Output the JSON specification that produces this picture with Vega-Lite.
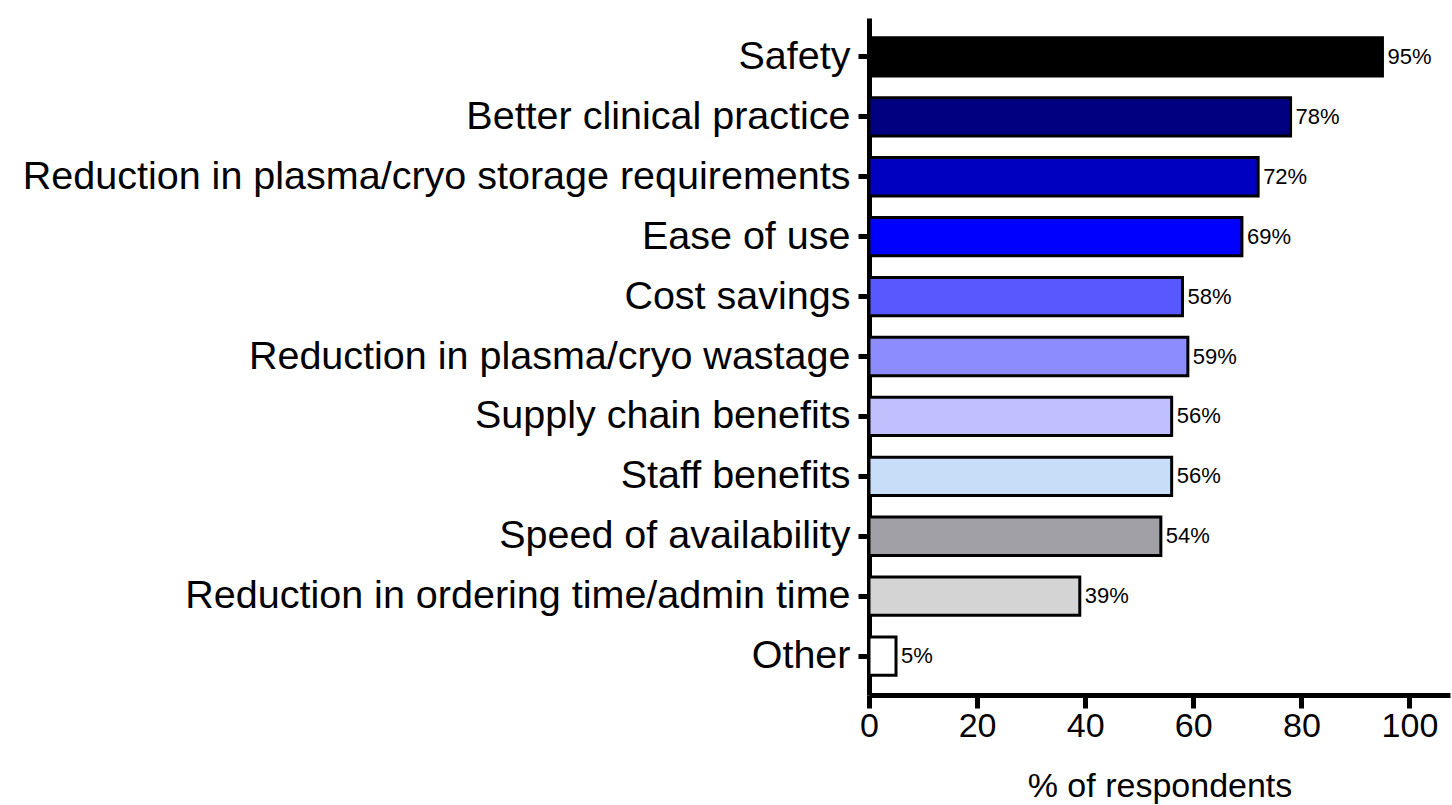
{
  "$schema": "https://vega.github.io/schema/vega-lite/v6.json",
  "width": 581,
  "height": 677,
  "autosize": {"type": "none"},
  "padding": {"left": 869, "top": 18, "right": 2, "bottom": 110},
  "background": "white",
  "config": {
    "font": "Liberation Sans",
    "view": {"stroke": null}
  },
  "data": {
    "values": [
      {"reason": "Safety", "pct": 95, "label": "95%"},
      {"reason": "Better clinical practice", "pct": 78, "label": "78%"},
      {"reason": "Reduction in plasma/cryo storage requirements", "pct": 72, "label": "72%"},
      {"reason": "Ease of use", "pct": 69, "label": "69%"},
      {"reason": "Cost savings", "pct": 58, "label": "58%"},
      {"reason": "Reduction in plasma/cryo wastage", "pct": 59, "label": "59%"},
      {"reason": "Supply chain benefits", "pct": 56, "label": "56%"},
      {"reason": "Staff benefits", "pct": 56, "label": "56%"},
      {"reason": "Speed of availability", "pct": 54, "label": "54%"},
      {"reason": "Reduction in ordering time/admin time", "pct": 39, "label": "39%"},
      {"reason": "Other", "pct": 5, "label": "5%"}
    ]
  },
  "encoding": {
    "y": {
      "field": "reason",
      "type": "nominal",
      "sort": null,
      "scale": {"paddingInner": 0.36, "paddingOuter": 0.33},
      "axis": {
        "title": null,
        "domainColor": "black",
        "domainWidth": 5,
        "tickColor": "black",
        "tickWidth": 5,
        "tickSize": 11,
        "labelPadding": 8,
        "labelFontSize": 39.5,
        "labelColor": "black",
        "labelLimit": 0
      }
    }
  },
  "layer": [
    {
      "mark": {"type": "bar", "stroke": "black", "strokeWidth": 3},
      "encoding": {
        "x": {
          "field": "pct",
          "type": "quantitative",
          "scale": {"domain": [0, 107.5], "nice": false},
          "axis": {
            "title": "% of respondents",
            "values": [0, 20, 40, 60, 80, 100],
            "grid": false,
            "domainColor": "black",
            "domainWidth": 5,
            "tickColor": "black",
            "tickWidth": 5,
            "tickSize": 13,
            "labelFontSize": 34,
            "labelColor": "black",
            "labelPadding": 1,
            "labelFlush": false,
            "titleFontSize": 34,
            "titleFontWeight": "normal",
            "titleColor": "black",
            "titlePadding": 26
          }
        },
        "color": {
          "field": "reason",
          "type": "nominal",
          "legend": null,
          "scale": {
            "domain": ["Safety", "Better clinical practice", "Reduction in plasma/cryo storage requirements", "Ease of use", "Cost savings", "Reduction in plasma/cryo wastage", "Supply chain benefits", "Staff benefits", "Speed of availability", "Reduction in ordering time/admin time", "Other"],
            "range": ["#000000", "#000080", "#0000C0", "#0000FF", "#5858FF", "#8C8CFF", "#C0C0FF", "#C8DDF8", "#A0A0A6", "#D4D4D4", "#FFFFFF"]
          }
        }
      }
    },
    {
      "mark": {"type": "text", "align": "left", "baseline": "middle", "dx": 5, "fontSize": 22, "color": "black"},
      "encoding": {
        "x": {"field": "pct", "type": "quantitative"},
        "text": {"field": "label"}
      }
    }
  ]
}
